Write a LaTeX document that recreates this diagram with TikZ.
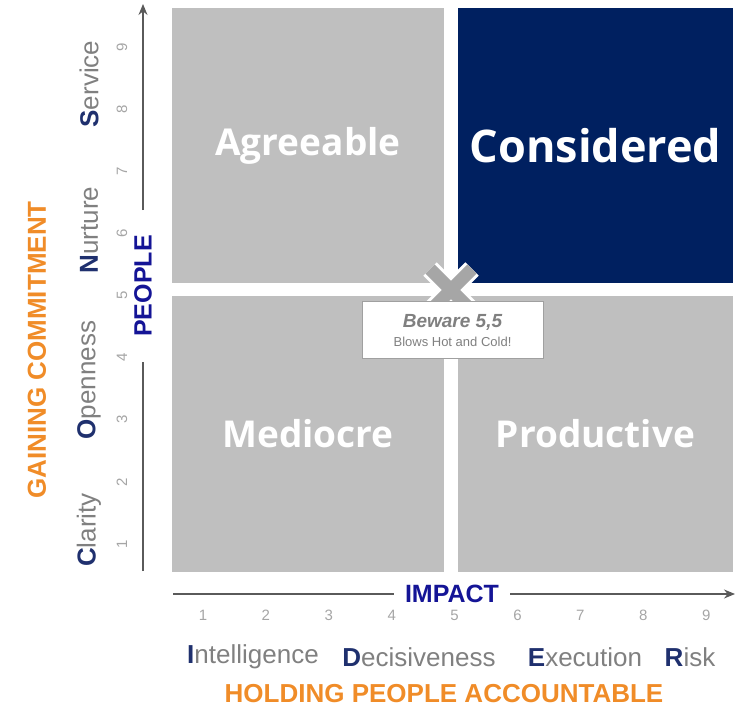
\documentclass[tikz,border=0pt]{standalone}
\usepackage{fontspec}
\setmainfont{Liberation Sans}
\newfontfamily\quadfont{Open Sans}
\usepackage{xcolor}
\usetikzlibrary{arrows,arrows.meta,positioning}
\definecolor{quadgrey}{RGB}{191,191,191}
\definecolor{darknavy}{RGB}{0,32,96}
\definecolor{axisblue}{RGB}{20,20,150}
\definecolor{leadnavy}{RGB}{31,48,110}
\definecolor{labelgrey}{RGB}{128,128,128}
\definecolor{tickgrey}{RGB}{165,165,165}
\definecolor{titleorange}{RGB}{240,140,40}
\definecolor{axisgrey}{RGB}{90,90,90}
\definecolor{crossgrey}{RGB}{166,166,166}
\definecolor{boxgrey}{RGB}{160,160,160}
\tikzstyle{arrow} = [thick,->,>={Stealth[length=11pt,width=9pt]}]
\newcommand{\lead}[1]{\textcolor{leadnavy}{\bfseries #1}}

\begin{document}
\begin{tikzpicture}[x=1pt,y=-1pt]
                \tikzstyle{quad}=[fill=quadgrey,draw=none,inner sep=0pt,minimum width=272pt,minimum height=275pt,text=white,font=\quadfont\bfseries\fontsize{37}{37}\selectfont]
                \tikzstyle{axis}=[line width=1.5pt,draw=axisgrey]
                \tikzstyle{axislabel}=[text=axisblue,font=\bfseries\fontsize{25}{25}\selectfont,inner ysep=0pt]
                \tikzstyle{tick}=[text=tickgrey,font=\fontsize{15}{15}\selectfont]
                \tikzstyle{dimlabel}=[text=labelgrey,font=\fontsize{26}{26}\selectfont]
                \tikzstyle{title}=[text=titleorange,font=\bfseries\fontsize{26}{26}\selectfont]
                \tikzstyle{cross}=[line width=13pt,draw=crossgrey]

                \useasboundingbox (0,0) rectangle (737,711);

                \node (agreeable) [quad] at (308,145.5) {Agreeable};
                \node (considered) [quad,minimum width=275pt,fill=darknavy,font=\quadfont\bfseries\fontsize{45}{45}\selectfont] at (595.5,145.5) {Considered};
                \node (mediocre) [quad] at (308,434) {Mediocre};
                \node (productive) [quad,minimum width=275pt] at (595.5,434) {Productive};

                \draw [cross,draw=white,line width=19pt] (430,269) -- (472,311) (430,311) -- (472,269);
                \draw [cross] (430,269) -- (472,311) (430,311) -- (472,269);
                \node [draw=boxgrey,fill=white,line width=1pt,minimum width=181pt,minimum height=57pt,align=center,text=labelgrey] (beware) at (452.5,330.5)
                {\fontsize{19}{19}\selectfont\bfseries\itshape Beware 5,5\\[5pt]\fontsize{13}{13}\selectfont Blows Hot and Cold!};

                \coordinate (yfoot) at (143,571);
                \coordinate (ytop) at (143,4);
                \node (people) [axislabel,rotate=90,inner xsep=25pt] at (143,286) {PEOPLE};
                \draw [axis] (yfoot) -- (people.west);
                \draw [arrow,axis] (people.east) -- (ytop);

                \coordinate (xfoot) at (173,594);
                \coordinate (xtip) at (735,594);
                \node (impact) [axislabel,inner xsep=11pt] at (452,594) {IMPACT};
                \draw [axis] (xfoot) -- (impact.west);
                \draw [arrow,axis] (impact.east) -- (xtip);

                \foreach \n in {1,...,9}
                    \node (xt\n) [tick] at ({203+62.9*(\n-1)},615) {\n};
                \foreach \n in {1,...,9}
                    \node (yt\n) [tick,rotate=90] at (122,{544-62.1*(\n-1)}) {\n};

                \node (clarity) [dimlabel,rotate=90] at (89,530) {\lead{C}larity};
                \node (openness) [dimlabel,rotate=90] at (89,380) {\lead{O}penness};
                \node (nurture) [dimlabel,rotate=90] at (89,230) {\lead{N}urture};
                \node (service) [dimlabel,rotate=90] at (89,84) {\lead{S}ervice};
                \node (gaining) [title,rotate=90] at (37,350) {GAINING COMMITMENT};

                \node (intelligence) [dimlabel] at (253,657) {\lead{I}ntelligence};
                \node (decisiveness) [dimlabel] at (419,657) {\lead{D}ecisiveness};
                \node (execution) [dimlabel] at (585,657) {\lead{E}xecution};
                \node (risk) [dimlabel] at (690,657) {\lead{R}isk};
                \node (holding) [title] at (444,694) {HOLDING PEOPLE ACCOUNTABLE};
            \end{tikzpicture}
\end{document}
